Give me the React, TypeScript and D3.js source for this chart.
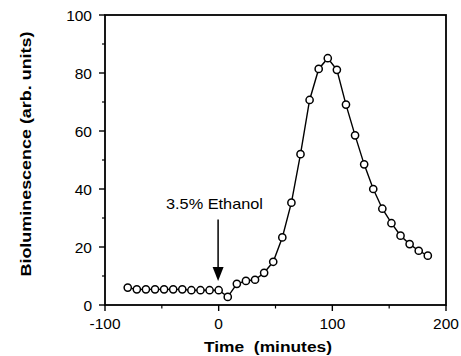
import React from "react";
import * as d3 from "d3";

const times: number[] = [
  -80, -72, -64, -56, -48, -40, -32, -24, -16, -8, 0, 8, 16, 24, 32, 40, 48, 56,
  64, 72, 80, 88, 96, 104, 112, 120, 128, 136, 144, 152, 160, 168, 176, 184,
];
const values: number[] = [
  6.0, 5.4, 5.4, 5.4, 5.4, 5.4, 5.4, 5.1, 5.1, 5.1, 5.1, 2.8, 7.3, 8.3, 8.7,
  11.1, 14.9, 23.3, 35.3, 52.0, 70.7, 81.4, 85.1, 81.1, 69.1, 58.5, 48.5, 40.0,
  33.2, 28.2, 23.9, 21.0, 18.7, 17.0,
];
const xTicks: number[] = [-100, 0, 100, 200];
const xMinorTicks: number[] = [-50, 50, 150];
const yTicks: number[] = [0, 20, 40, 60, 80, 100];
const yMinorTicks: number[] = [10, 30, 50, 70, 90];
const annotationText = "3.5% Ethanol";
const arrowTime = -0.5;
const arrowFrom = 29.5;
const arrowTo = 8.3;
const xTitle = "Time  (minutes)";
const yTitle = "Bioluminescence (arb. units)";

export default function App() {
  const W = 461;
  const H = 356;
  const x = d3.scaleLinear().domain([-100, 200]).range([105, 446]);
  const y = d3.scaleLinear().domain([0, 100]).range([305, 15]);
  const pts = times.map((t, i) => [t, values[i]] as [number, number]);
  const line = d3
    .line<[number, number]>()
    .x((d) => x(d[0]))
    .y((d) => y(d[1]));
  const font = "'Liberation Sans', Arial, Helvetica, sans-serif";
  const ax = x(arrowTime);
  const aTop = y(arrowFrom);
  const aTip = y(arrowTo);
  return (
    <svg
      width={W}
      height={H}
      style={{ position: "absolute", left: 0, top: 0, background: "#fff" }}
      fontFamily={font}
    >
      <rect x={0} y={0} width={W} height={H} fill="#fff" />
      {/* frame */}
      <rect
        x={x(-100)}
        y={y(100)}
        width={x(200) - x(-100)}
        height={y(0) - y(100)}
        fill="none"
        stroke="#000"
        strokeWidth={1.8}
      />
      {/* y ticks */}
      {yTicks.map((v) => (
        <g key={"y" + v}>
          <line x1={x(-100) - 6} x2={x(-100)} y1={y(v)} y2={y(v)} stroke="#000" strokeWidth={1.4} />
          <text x={x(-100) - 13} y={y(v)} dy="0.36em" textAnchor="end" fontSize={15.5}>
            {v}
          </text>
        </g>
      ))}
      {yMinorTicks.map((v) => (
        <line key={"ym" + v} x1={x(-100) - 3} x2={x(-100)} y1={y(v)} y2={y(v)} stroke="#000" strokeWidth={1.2} />
      ))}
      {/* x ticks */}
      {xTicks.map((v) => (
        <g key={"x" + v}>
          <line x1={x(v)} x2={x(v)} y1={y(0)} y2={y(0) + 6} stroke="#000" strokeWidth={1.4} />
          <text x={x(v)} y={y(0) + 24} textAnchor="middle" fontSize={15.5}>
            {v}
          </text>
        </g>
      ))}
      {xMinorTicks.map((v) => (
        <line key={"xm" + v} x1={x(v)} x2={x(v)} y1={y(0)} y2={y(0) + 3.5} stroke="#000" strokeWidth={1.2} />
      ))}
      {/* titles */}
      <text
        x={268}
        y={352}
        textAnchor="middle"
        fontSize={14.5}
        fontWeight="bold"
        textLength={128}
        lengthAdjust="spacingAndGlyphs"
        style={{ whiteSpace: "pre" }}
      >
        {xTitle}
      </text>
      <text
        transform={`translate(31,154) rotate(-90)`}
        textAnchor="middle"
        fontSize={15}
        fontWeight="bold"
        textLength={245}
        lengthAdjust="spacingAndGlyphs"
      >
        {yTitle}
      </text>
      {/* annotation */}
      <text x={166} y={208.5} fontSize={14.5} textLength={97} lengthAdjust="spacingAndGlyphs">
        {annotationText}
      </text>
      <line x1={ax} x2={ax} y1={aTop} y2={aTip - 10} stroke="#000" strokeWidth={1.5} />
      <path
        d={`M${ax - 5.5},${aTip - 14} L${ax + 5.5},${aTip - 14} L${ax},${aTip} Z`}
        fill="#000"
      />
      {/* data */}
      <path d={line(pts) || ""} fill="none" stroke="#000" strokeWidth={1.4} />
      {pts.map((d, i) => (
        <circle
          key={i}
          cx={x(d[0])}
          cy={y(d[1])}
          r={3.6}
          fill="#fff"
          stroke="#000"
          strokeWidth={1.5}
        />
      ))}
    </svg>
  );
}
